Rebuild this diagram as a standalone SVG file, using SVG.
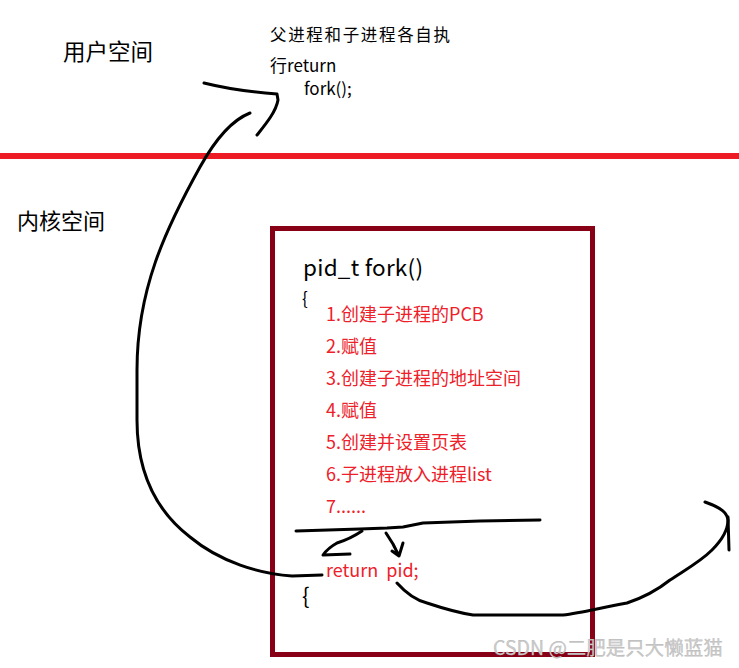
<svg xmlns="http://www.w3.org/2000/svg" width="739" height="668" viewBox="0 0 739 668">
<style>
text{font-family:"Microsoft YaHei","Noto Sans CJK SC","Noto Sans",sans-serif;}
.blk{fill:#000;}
.red{fill:#EE2029;}
.ink{fill:none;stroke:#000;stroke-width:3;stroke-linecap:round;stroke-linejoin:round;}
</style>
<rect width="739" height="668" fill="#fff"/>
<g id="divider"><line x1="0" y1="156" x2="739" y2="156" stroke="#ED1C24" stroke-width="6"/></g>
<g id="user-space"><text x="63" y="60" font-size="22.5" class="blk">用户空间</text></g>
<g id="kernel-space"><text x="17" y="229" font-size="22" class="blk">内核空间</text></g>
<g id="note">
<text x="270" y="41" font-size="16.5" class="blk" textLength="180">父进程和子进程各自执</text>
<text x="270" y="72" font-size="17" class="blk">行return</text>
<text x="304" y="95" font-size="17" class="blk">fork();</text>
</g>
<g id="fork-box">
<rect x="272.5" y="228.5" width="320" height="426" fill="none" stroke="#880015" stroke-width="5"/>
<text x="303" y="276" font-size="22.5" class="blk" textLength="120">pid_t fork()</text>
<text x="302" y="305" font-size="17" class="blk">{</text>
<text x="326" y="321" font-size="18" class="red">1.创建子进程的PCB</text>
<text x="326" y="353" font-size="18" class="red">2.赋值</text>
<text x="326" y="385" font-size="18" class="red">3.创建子进程的地址空间</text>
<text x="326" y="417" font-size="18" class="red">4.赋值</text>
<text x="326" y="449" font-size="18" class="red">5.创建并设置页表</text>
<text x="326" y="481" font-size="18" class="red">6.子进程放入进程list</text>
<text x="326" y="513" font-size="18" class="red">7......</text>
<text x="326" y="577" font-size="18" class="red" xml:space="preserve">return  pid;</text>
<text x="302" y="604" font-size="22" class="blk">{</text>
</g>
<g id="connectors">
<path class="ink" d="M296,531 L360,529 L387,528 L403,527 L423,523 L480,521 L540,520"/>
<path class="ink" d="M362,531 Q350,539 337,543 Q328,548 323,555 L350,554"/>
<path class="ink" d="M386,533 L393,544 L398,554 M392,551 L399,556 L403,543"/>
<path class="ink" d="M322,575 L292,576 C260,574 220,562 190,537 C155,510 137,470 137,420 L137,370 C137,290 165,230 200,167 C215,140 232,120 250,113"/>
<path class="ink" d="M204,83 C220,87 250,92 277,94 L278,100 C276,112 265,125 257,135"/>
<path class="ink" d="M397,583 C405,592 415,600 427,603 C445,609 460,613 473,615 L563,615 C580,613 600,608 627,603 C645,597 660,588 670,580 C685,570 700,562 712,550 C722,540 728,530 728,520 C727,513 722,508 705,502"/>
<path class="ink" d="M728,517 L729,550"/>
</g>
<g id="watermark"><text x="493" y="655" font-size="19.5" fill="#cccccc" stroke="#a8a8a8" stroke-width="0.25">CSDN @二肥是只大懒蓝猫</text></g>
</svg>
